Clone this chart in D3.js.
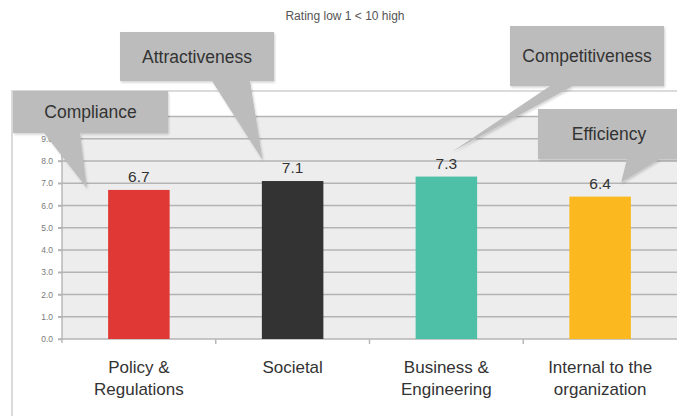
<!DOCTYPE html>
<html>
<head>
<meta charset="utf-8">
<script src="https://cdn.jsdelivr.net/npm/d3@7"></script>
<style>
  html, body { margin: 0; padding: 0; background: #ffffff; }
  svg { display: block; font-family: "Liberation Sans", Arial, Helvetica, sans-serif; }
</style>
</head>
<body>
<svg id="chart" width="677" height="416"></svg>
<script>
// Chart data
const title = "Rating low 1 < 10 high";
const categories = ["Policy &\nRegulations", "Societal", "Business &\nEngineering", "Internal to the\norganization"];
const values = [6.7, 7.1, 7.3, 6.4];
const barColors = ["#e03834", "#333333", "#4fc0a8", "#fbb81f"];
const calloutLabels = ["Compliance", "Attractiveness", "Competitiveness", "Efficiency"];
const gridValues = [0, 1, 2, 3, 4, 5, 6, 7, 8, 9, 10];
const yTickLabels = [0, 1, 2, 3, 4, 5, 6, 7, 8, 9];

// Layout
const W = 677, H = 416;
const frame = { left: 12, top: 91 };
const plot = { left: 62, right: 677, top: 116.5, bottom: 339 };

// Callout bubbles: box geometry, tail base on the box bottom edge, tail tip relative to the bar top centre
const calloutLayout = [
  { x: 13,  y: 91, w: 155, h: 42, base: [44, 80],   tip: { dx: -52, dy: -2 } },
  { x: 120, y: 32, w: 154, h: 49, base: [212, 250], tip: { dx: -30, dy: -21 } },
  { x: 510, y: 26, w: 154, h: 60, base: [550, 573], tip: { dx: 6,   dy: -25 } },
  { x: 538, y: 109, w: 142, h: 50, base: [627, 660], tip: { dx: 21,  dy: -14 } }
];

const svg = d3.select("#chart");

const x = d3.scaleBand()
  .domain(categories)
  .range([plot.left, plot.right])
  .paddingInner(0.6)
  .paddingOuter(0.3);

const band = d3.scaleBand()
  .domain(categories)
  .range([plot.left, plot.right]);

const y = d3.scaleLinear()
  .domain([0, 10])
  .range([plot.bottom, plot.top]);

const defs = svg.append("defs");
const shadow = defs.append("filter").attr("id", "soft").attr("x", "-10%").attr("y", "-10%").attr("width", "130%").attr("height", "140%");
shadow.append("feDropShadow")
  .attr("dx", 1).attr("dy", 1.5).attr("stdDeviation", 1.2)
  .attr("flood-color", "#000").attr("flood-opacity", 0.18);

// Title
svg.append("text")
  .attr("x", 345).attr("y", 20)
  .attr("text-anchor", "middle")
  .attr("font-size", 12)
  .attr("fill", "#555")
  .text(title);

// Outer frame (top and left edges)
svg.append("path")
  .attr("d", `M${frame.left},${H} V${frame.top} H${W}`)
  .attr("fill", "none")
  .attr("stroke", "#cfcfcf")
  .attr("stroke-width", 1.5);

// Plot background
svg.append("rect")
  .attr("x", plot.left).attr("y", plot.top)
  .attr("width", plot.right - plot.left)
  .attr("height", plot.bottom - plot.top)
  .attr("fill", "#ededed");

// Gridlines
svg.append("g")
  .selectAll("line")
  .data(gridValues)
  .join("line")
  .attr("x1", plot.left - 4).attr("x2", plot.right)
  .attr("y1", d => y(d)).attr("y2", d => y(d))
  .attr("stroke", "#b4b4b4")
  .attr("stroke-width", 1.4);

// Y axis
const yAxis = svg.append("g")
  .attr("transform", `translate(${plot.left},0)`)
  .call(d3.axisLeft(y).tickValues(yTickLabels).tickFormat(d3.format(".1f")).tickSize(4).tickPadding(5));
yAxis.select(".domain").attr("stroke", "#b4b4b4").attr("stroke-width", 1.4)
  .attr("d", `M0,${plot.top}V${plot.bottom + 4}`);
yAxis.selectAll(".tick line").attr("stroke", "#b4b4b4").attr("stroke-width", 1.4);
yAxis.selectAll(".tick text").attr("fill", "#7a7a7a").attr("font-size", 8.5)
  .attr("font-family", "Liberation Sans, Arial, sans-serif");

// Category separators below the baseline
svg.append("g")
  .selectAll("line")
  .data(categories.slice(1))
  .join("line")
  .attr("x1", d => band(d)).attr("x2", d => band(d))
  .attr("y1", plot.bottom).attr("y2", plot.bottom + 5)
  .attr("stroke", "#b4b4b4")
  .attr("stroke-width", 1.4);

// Bars
svg.append("g")
  .selectAll("rect")
  .data(values)
  .join("rect")
  .attr("x", (d, i) => x(categories[i]))
  .attr("y", d => y(d))
  .attr("width", x.bandwidth())
  .attr("height", d => y(0) - y(d))
  .attr("fill", (d, i) => barColors[i]);

// Value labels
svg.append("g")
  .selectAll("text")
  .data(values)
  .join("text")
  .attr("x", (d, i) => x(categories[i]) + x.bandwidth() / 2)
  .attr("y", d => y(d) - 8)
  .attr("text-anchor", "middle")
  .attr("font-size", 15.5)
  .attr("fill", "#333")
  .text(d => d3.format(".1f")(d));

// Category labels
const catLabels = svg.append("g")
  .selectAll("text")
  .data(categories)
  .join("text")
  .attr("text-anchor", "middle")
  .attr("font-size", 17)
  .attr("fill", "#333");
catLabels.each(function (d) {
  const cx = band(d) + band.bandwidth() / 2;
  d3.select(this).selectAll("tspan")
    .data(d.split("\n"))
    .join("tspan")
    .attr("x", cx)
    .attr("y", (t, j) => 373 + j * 21.5)
    .text(t => t);
});

// Callout bubbles
const callouts = svg.append("g")
  .selectAll("g")
  .data(calloutLabels)
  .join("g");

callouts.append("path")
  .attr("filter", "url(#soft)")
  .attr("fill", "#bcbcbc")
  .attr("d", (d, i) => {
    const c = calloutLayout[i];
    const cx = x(categories[i]) + x.bandwidth() / 2;
    const tx = cx + c.tip.dx, ty = y(values[i]) + c.tip.dy;
    const b = c.y + c.h;
    return `M${c.x},${c.y} H${c.x + c.w} V${b} H${c.base[1]} L${tx},${ty} L${c.base[0]},${b} H${c.x} Z`;
  });

callouts.append("text")
  .attr("x", (d, i) => calloutLayout[i].x + calloutLayout[i].w / 2)
  .attr("y", (d, i) => calloutLayout[i].y + calloutLayout[i].h / 2 + 6)
  .attr("text-anchor", "middle")
  .attr("font-size", 17.5)
  .attr("fill", "#333")
  .text(d => d);
</script>
</body>
</html>
